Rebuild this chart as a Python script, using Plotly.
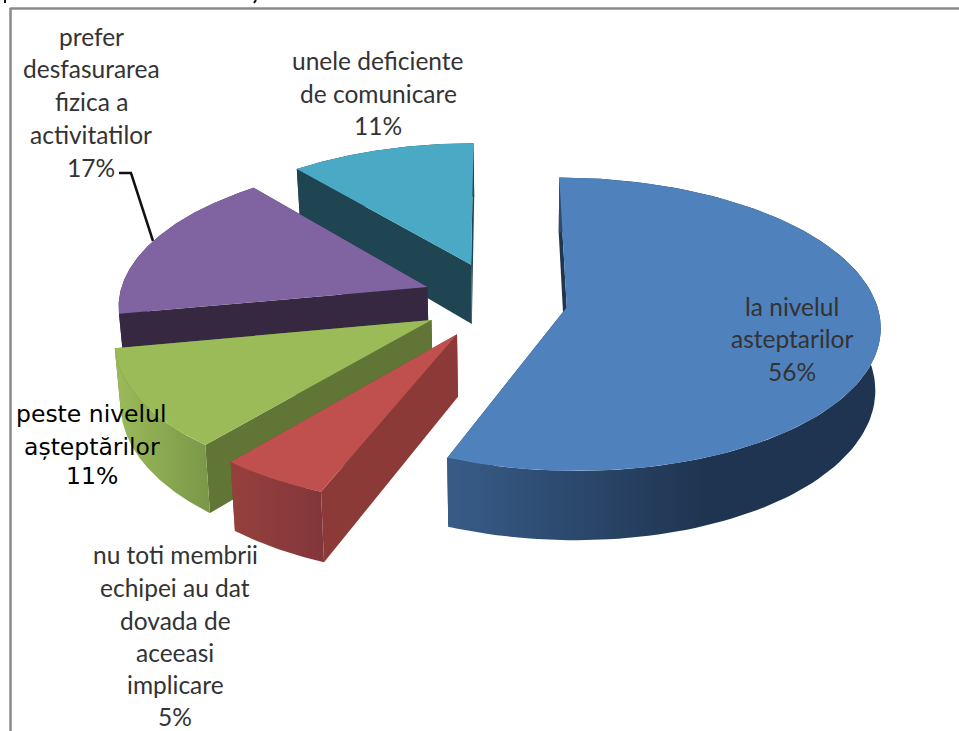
import numpy as np
import plotly.graph_objects as go

# Survey shares, clockwise from twelve o'clock
categories = ["la nivelul asteptarilor", "nu toti membrii echipei au dat dovada de aceeasi implicare",
              "peste nivelul așteptărilor", "prefer desfasurarea fizica a activitatilor",
              "unele deficiente de comunicare"]
values = [56, 5, 11, 17, 11]

top_colors = ["#4f81bd", "#c0504d", "#9bbb59", "#8064a2", "#4aa9c5"]
cut_colors = ["#1f3550", "#8c3a38", "#607536", "#372842", "#1e4551"]
rim_scales = [
    [[0, "#385c88"], [0.6, "#1f3450"], [1, "#1f3450"]],
    [[0, "#96403d"], [1, "#82363a"]],
    [[0, "#9bbb59"], [1, "#7a9748"]],
    [[0, "#372842"], [1, "#372842"]],
    [[0, "#1e4551"], [1, "#1e4551"]],
]

# Projection of the tilted, exploded pie onto the plot's pixel-like axes
CX, CY = 495.0, 300.0
RX, RY = 309.0, 143.0
EXPLODE_X, EXPLODE_Y = 0.235, 0.27
PERSPECTIVE = 0.115
DEPTH = 61.0
VANISH_X, CONVERGE = 520.0, 0.015


def project(u, v, z=0.0):
    s = 1.0 / (1.0 - PERSPECTIVE * v)
    x = CX + RX * u * s
    y = CY + RY * v * s + z * DEPTH * s
    return VANISH_X + (x - VANISH_X) * (1 - CONVERGE * z), y


def polygon(fig, xs, ys, color=None, scale=None):
    trace = dict(x=xs, y=ys, mode="lines", line=dict(width=0), fill="toself",
                 hoverinfo="skip", showlegend=False)
    if scale is not None:
        trace["fillgradient"] = dict(type="horizontal", colorscale=scale)
    else:
        trace["fillcolor"] = color
    fig.add_trace(go.Scatter(**trace))


fig = go.Figure()

edges = np.radians(np.cumsum([0] + values) * 3.6)
order = [4, 3, 2, 1, 0]  # back slices first so the nearer ones cover them

# Leader line for the label of the purple slice
fig.add_trace(go.Scatter(x=[119, 131, 153], y=[173, 173, 241], mode="lines",
                         line=dict(color="#111111", width=2.5), hoverinfo="skip", showlegend=False))

for i in order:
    a0, a1 = edges[i], edges[i + 1]
    mid = (a0 + a1) / 2
    ou, ov = EXPLODE_X * np.sin(mid), -EXPLODE_Y * np.cos(mid)
    arc = np.linspace(a0, a1, 120)
    ru, rv = ou + np.sin(arc), ov - np.cos(arc)

    tx, ty = project(ru, rv)
    bx, by = project(ru, rv, 1.0)
    ax, ay = project(ou, ov)
    cx2, cy2 = project(ou, ov, 1.0)

    # Radial cut faces
    for end in (0, -1):
        polygon(fig, [ax, tx[end], bx[end], cx2], [ay, ty[end], by[end], cy2], cut_colors[i])
    # Curved outer wall
    polygon(fig, np.r_[tx, bx[::-1]], np.r_[ty, by[::-1]], scale=rim_scales[i])
    # Top face
    polygon(fig, np.r_[ax, tx], np.r_[ay, ty], top_colors[i])

# Label rows: text, centre x, centre y
grey = "#333333"
label_rows = [
    ("prefer", 91, 36), ("desfasurarea", 91, 68), ("fizica a", 91, 101),
    ("activitatilor", 91, 134), ("17%", 91, 167),
    ("unele deficiente", 378, 60), ("de comunicare", 378, 93), ("11%", 378, 125),
    ("la nivelul", 792, 306), ("asteptarilor", 792, 338), ("56%", 792, 371),
    ("nu toti membrii", 175, 554), ("echipei au dat", 175, 587), ("dovada de", 175, 620),
    ("aceeasi", 175, 652), ("implicare", 175, 684), ("5%", 175, 716),
]
for text, x, y in label_rows:
    fig.add_annotation(x=x, y=y, text=text, showarrow=False, xanchor="center", yanchor="middle",
                       font=dict(family="Lato", size=24.5, color=grey))

# The hand-edited label uses a different face
edited_rows = [("peste nivelul", 91, 414), ("așteptărilor", 92, 447), ("11%", 92, 476)]
for text, x, y in edited_rows:
    fig.add_annotation(x=x, y=y, text=text, showarrow=False, xanchor="center", yanchor="middle",
                       font=dict(family="DejaVu Sans", size=23.5, color="#000000"))

frame = dict(type="line", line=dict(color="#8a8a8a", width=2.5), layer="above")
stub = dict(type="line", line=dict(color="#111111", width=2), layer="above")
fig.update_layout(
    width=959, height=731, margin=dict(l=0, r=0, t=0, b=0),
    paper_bgcolor="#ffffff", plot_bgcolor="#ffffff",
    xaxis=dict(range=[0, 959], visible=False, fixedrange=True),
    yaxis=dict(range=[731, 0], visible=False, fixedrange=True),
    shapes=[
        dict(frame, x0=10.5, x1=10.5, y0=8, y1=731),
        dict(frame, x0=10, x1=959, y0=8.5, y1=8.5),
        # descenders of the line of text cut off above the frame
        dict(stub, x0=5, x1=5, y0=0, y1=3),
        dict(stub, x0=256, x1=254, y0=0, y1=3),
    ],
)

fig.write_html("out.html")
